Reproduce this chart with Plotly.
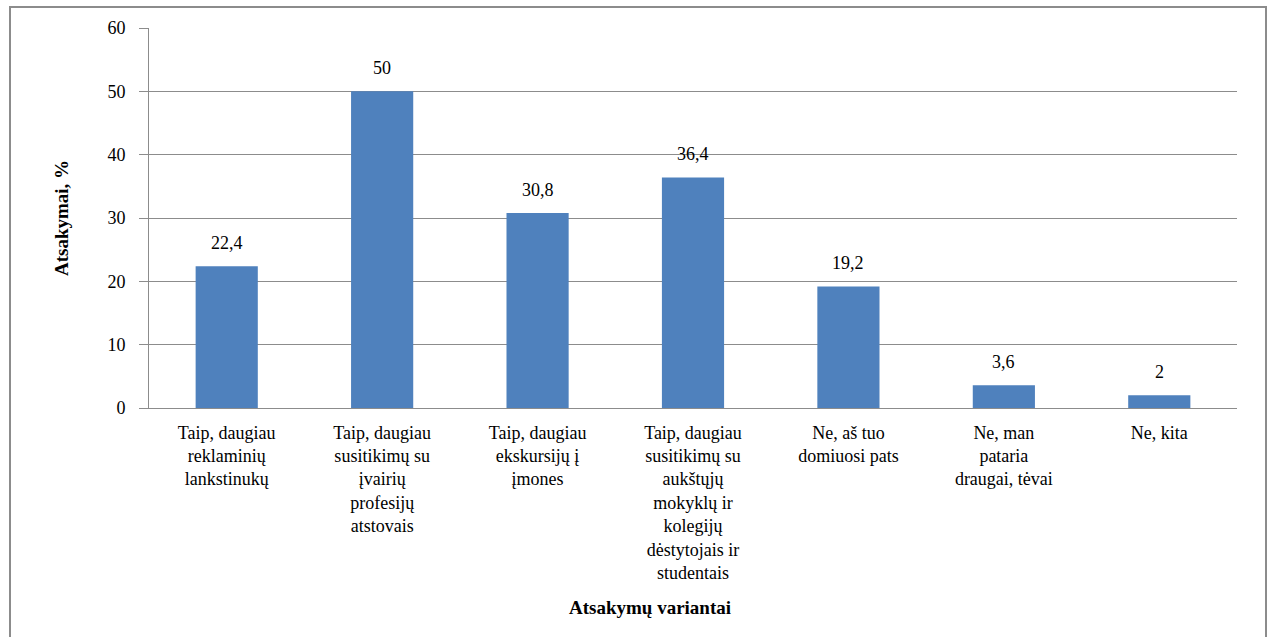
import plotly.graph_objects as go

categories = [
    "Taip, daugiau<br>reklaminių<br>lankstinukų",
    "Taip, daugiau<br>susitikimų su<br>įvairių<br>profesijų<br>atstovais",
    "Taip, daugiau<br>ekskursijų į<br>įmones",
    "Taip, daugiau<br>susitikimų su<br>aukštųjų<br>mokyklų ir<br>kolegijų<br>dėstytojais ir<br>studentais",
    "Ne, aš tuo<br>domiuosi pats",
    "Ne, man<br>pataria<br>draugai, tėvai",
    "Ne, kita",
]
values = [22.4, 50, 30.8, 36.4, 19.2, 3.6, 2]
value_labels = ["22,4", "50", "30,8", "36,4", "19,2", "3,6", "2"]
y_ticks = [0, 10, 20, 30, 40, 50, 60]

W, H = 1273, 637
L, R, T, B = 149, 1237, 28, 408
pw, ph = R - L, B - T

FONT = "Times New Roman, Liberation Serif, serif"
GRID = "#8c8c8c"

fig = go.Figure(go.Bar(
    x=categories, y=values,
    marker=dict(color="#4F81BD", line=dict(width=0)),
    width=0.4,
    hoverinfo="skip",
))

annotations = [
    dict(x=c, y=v, text=t, xref="x", yref="y", showarrow=False,
         xanchor="center", yanchor="bottom", yshift=11,
         font=dict(family=FONT, size=18, color="#000000"))
    for c, v, t in zip(categories, values, value_labels)
]
annotations += [
    dict(text="<b>Atsakymų variantai</b>", xref="paper", yref="paper",
         x=(650 - L) / pw, y=(B - 607) / ph, xanchor="center", yanchor="middle",
         showarrow=False, font=dict(family=FONT, size=19, color="#000000")),
    dict(text="<b>Atsakymai, %</b>", xref="paper", yref="paper",
         x=(61 - L) / pw, y=(B - 218) / ph, xanchor="center", yanchor="middle",
         textangle=-90, showarrow=False, font=dict(family=FONT, size=19, color="#000000")),
]

fig.update_layout(
    width=W, height=H,
    margin=dict(l=L, r=W - R, t=T, b=H - B),
    paper_bgcolor="white", plot_bgcolor="white",
    showlegend=False,
    font=dict(family=FONT, size=18, color="#000000"),
    xaxis=dict(
        showgrid=False, showline=True, linecolor=GRID, linewidth=1,
        ticks="", tickfont=dict(family=FONT, size=18, color="#000000"),
        ticklabelstandoff=8,
    ),
    yaxis=dict(
        range=[0, 60], tickvals=y_ticks, ticktext=[str(v) for v in y_ticks],
        showgrid=True, gridcolor=GRID, gridwidth=1,
        showline=True, linecolor=GRID, linewidth=1,
        ticks="outside", ticklen=9, tickcolor=GRID,
        tickfont=dict(family=FONT, size=18, color="#000000"),
        ticklabelstandoff=10,
        zeroline=False,
    ),
    annotations=annotations,
    shapes=[
        dict(type="rect", xref="paper", yref="paper",
             x0=(10 - L) / pw, x1=(1266 - L) / pw,
             y0=(B - 645) / ph, y1=(B - 7) / ph,
             line=dict(color="#8c8c8c", width=2), fillcolor="rgba(0,0,0,0)", layer="below"),
    ],
)

fig.write_html(
    "out.html",
    config={"displayModeBar": False},
    post_script="document.body.style.margin='0px';document.body.style.overflow='hidden';",
)
